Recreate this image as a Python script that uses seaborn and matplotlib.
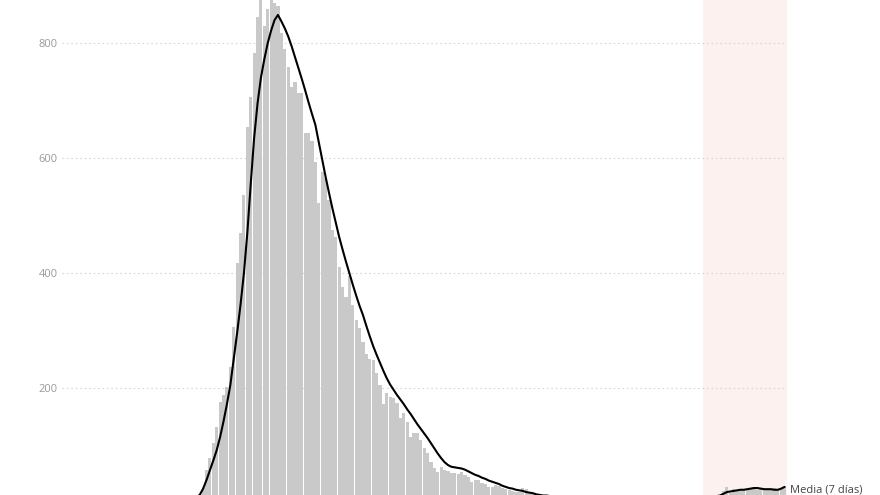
import numpy as np
import pandas as pd
import matplotlib
matplotlib.use('Agg')
import matplotlib.pyplot as plt
import seaborn as sns

# fallecidos diarios (lectura aproximada del gráfico), un valor por día
fallecidos = (
    [0] * 25
    + [1, 0, 1, 2, 1, 3, 2, 4, 5, 3, 6, 8, 7, 10, 12]
    + [16, 26, 57, 78, 104, 132, 176, 188, 202, 237,
       306, 417, 470, 535, 654, 706, 783, 845, 900, 830,
       860, 880, 870, 865, 817, 790, 758, 723, 732, 713,
       713, 643, 643, 630, 593, 522, 576, 565, 527, 475,
       463, 410, 376, 358, 395, 344, 318, 304, 280, 260,
       250, 249, 226, 205, 172, 191, 185, 183, 174, 148,
       157, 141, 115, 122, 122, 110, 95, 87, 71, 60,
       54, 63, 57, 55, 52, 52, 50, 54, 48, 45,
       37, 40, 40, 35, 33, 28, 28, 31, 30, 26,
       25, 22, 21, 19, 19, 26, 24, 17, 16, 13,
       12]
    + [12, 11, 13, 10, 9, 12, 8, 10, 9, 7,
       11, 8, 6, 9, 7, 8, 5, 6, 7, 4,
       6, 5, 7, 3, 5, 6, 4, 5, 3, 6,
       4, 5, 7, 4, 6, 5, 8, 6, 7, 5,
       9, 6, 8, 7, 10, 8, 9]
    + [6, 8, 9, 10, 12, 13, 20, 28, 18, 24,
       22, 21, 25, 23, 24, 27, 22, 25, 24, 23,
       22, 26, 24, 25, 27]
)

# media de 7 días
media = (
    [0] * 25
    + [0, 0, 1, 1, 1, 1, 2, 2, 3, 3, 4, 5, 6, 8, 10]
    + [14, 25, 40, 57, 74, 92, 115, 142, 172, 205,
       250, 296, 345, 400, 470, 555, 635, 695, 740, 772,
       800, 822, 840, 849, 838, 826, 812, 795, 776, 757,
       738, 718, 697, 677, 658, 628, 598, 568, 540, 513,
       488, 463, 441, 420, 400, 380, 361, 343, 327, 308,
       290, 273, 258, 244, 230, 217, 206, 197, 188, 180,
       172, 163, 155, 146, 137, 129, 121, 113, 104, 95,
       86, 78, 71, 66, 63, 62, 61, 60, 58, 55,
       52, 49, 47, 44, 42, 39, 37, 35, 33, 30,
       28, 26, 25, 23, 22, 21, 19, 18, 17, 15,
       14]
    + [13, 13, 12, 12, 12, 11, 11, 11, 10, 10,
       10, 9, 9, 9, 8, 8, 8, 7, 7, 7,
       6, 6, 6, 6, 5, 5, 5, 5, 5, 5,
       5, 5, 5, 5, 6, 6, 6, 6, 6, 7,
       7, 7, 7, 8, 8, 8, 9, 9, 10, 11,
       11, 12]
    + [13, 16, 19, 20, 21, 22, 23, 23, 24, 25,
       26, 26, 25, 24, 24, 24, 23, 23, 25, 28]
)

y_ticks = [0, 200, 400, 600, 800]
inicio_zona = 188  # primer día de la franja sombreada

df = pd.DataFrame({'dia': np.arange(len(fallecidos)),
                   'fallecidos': fallecidos,
                   'media': media})

sns.set_style('white')
plt.rcParams['font.family'] = ['Open Sans', 'DejaVu Sans']

fig = plt.figure(figsize=(8.8, 4.95), dpi=100)
ax = fig.add_axes([62 / 880, 0, 725 / 880, 1])

ax.axvspan(inicio_zona, len(df) - 0.3, color='#fcf1ee', zorder=0.1, lw=0)

sns.barplot(data=df, x='dia', y='fallecidos', native_scale=True,
            color='#c9c9c9', saturation=1, width=0.92, linewidth=0,
            ax=ax, zorder=2)
sns.lineplot(data=df, x='dia', y='media', color='black', lw=1.5,
             ax=ax, zorder=3)

ax.annotate('Media (7 días)', xy=(df['dia'].iloc[-1], df['media'].iloc[-1]),
            xytext=(4, -2), textcoords='offset points', va='center',
            ha='left', fontsize=8, color='#444444', annotation_clip=False)

ax.set_yticks(y_ticks)
ax.set_xticks([])
ax.set_xlim(-0.5, len(df) - 0.3)
ax.set_ylim(13.9, 875)
ax.set_xlabel('')
ax.set_ylabel('')
ax.tick_params(axis='y', length=0, pad=3, labelsize=8, labelcolor='#9a9a9a')
ax.set_axisbelow(True)
ax.yaxis.grid(True, linestyle=(0, (1.5, 2.5)), color='#d6d6d6', lw=0.8)
ax.xaxis.grid(False)
sns.despine(ax=ax, left=True, bottom=True)

fig.savefig('out.png', dpi=100)
